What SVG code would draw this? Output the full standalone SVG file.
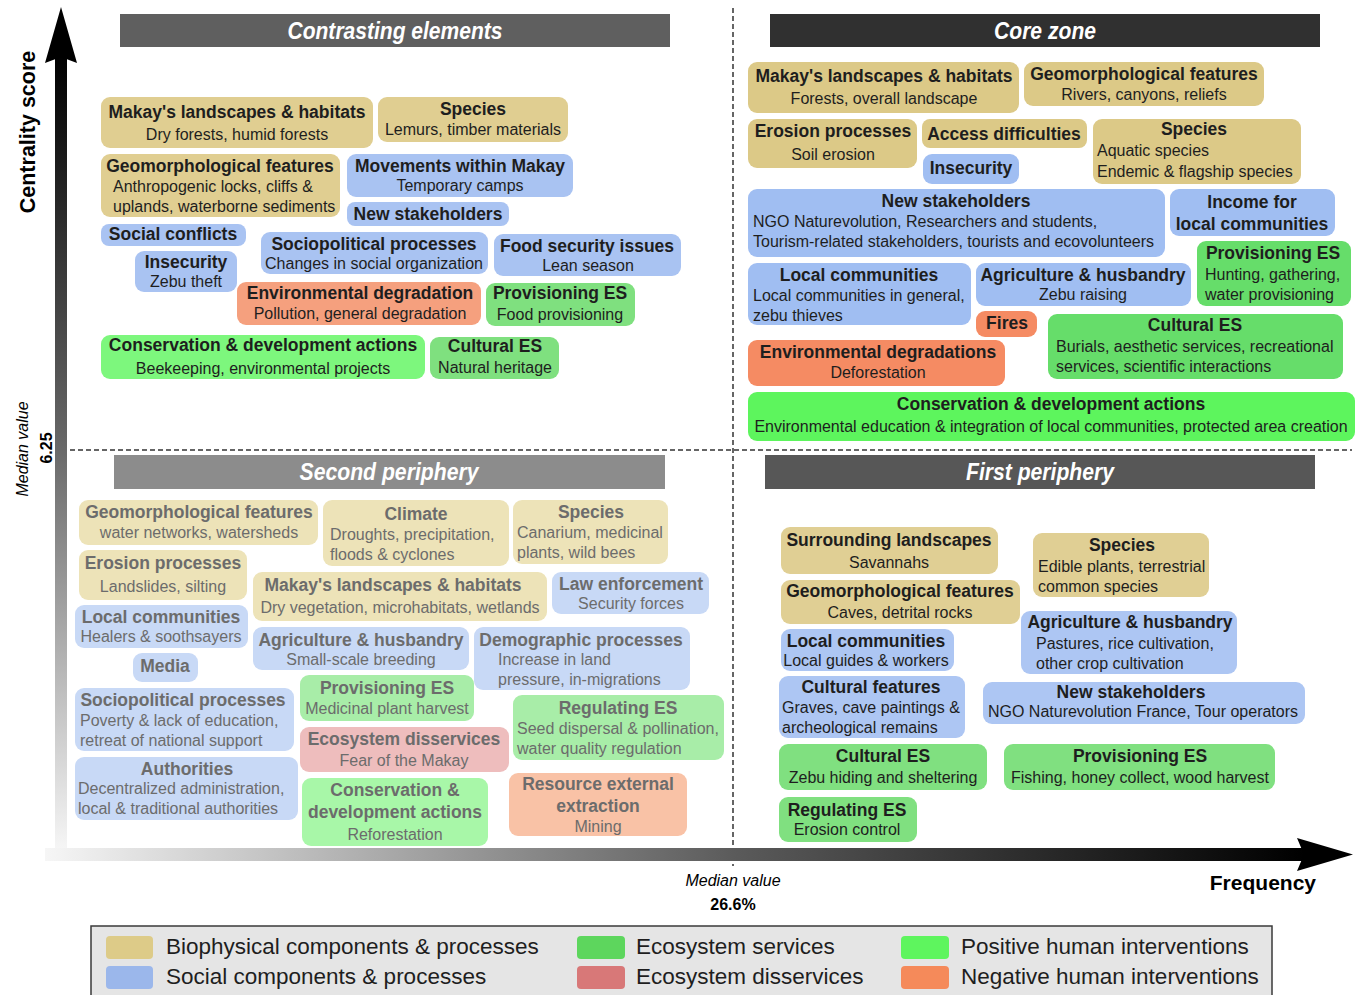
<svg xmlns="http://www.w3.org/2000/svg" width="1359" height="995" viewBox="0 0 1359 995">
<defs>
<linearGradient id="gy" x1="0" y1="55" x2="0" y2="850" gradientUnits="userSpaceOnUse">
<stop offset="0" stop-color="#000"/><stop offset="0.5" stop-color="#6a6a6a"/><stop offset="1" stop-color="#f6f6f6"/>
</linearGradient>
<linearGradient id="gx" x1="45" y1="0" x2="1305" y2="0" gradientUnits="userSpaceOnUse">
<stop offset="0" stop-color="#f6f6f6"/><stop offset="0.55" stop-color="#5a5a5a"/><stop offset="1" stop-color="#000"/>
</linearGradient>
<style>
text{font-family:"Liberation Sans",Arial,sans-serif}
.t{font-weight:bold;font-size:17.5px;fill:#1e1e1e}
.s{font-size:16px;fill:#1e1e1e}
.c{text-anchor:middle}
.fd .t,.fd .s{fill:#6c6c6c}
.hd{font-weight:bold;font-style:italic;font-size:24px;fill:#fff;text-anchor:middle}
.lg{font-size:22.5px;fill:#1e1e1e}
.dash{stroke:#333;stroke-width:1.5;stroke-dasharray:5 3;fill:none}
.bioC{fill:#E0CE91}.socC{fill:#A9C3F2}.esC{fill:#7FE07F}.posC{fill:#7DF77D}.negC{fill:#F5A07E}
.bioK{fill:#DCC987}.socK{fill:#A0BEF2}.esK{fill:#66DD6A}.posK{fill:#5DF55D}.negK{fill:#F58B63}
.bioS{fill:#EDE3B8}.socS{fill:#C8D9F6}.esS{fill:#A8EDA8}.disS{fill:#EEBDBD}.negS{fill:#F9C2A6}.posS{fill:#A8F7A8}
.bioF{fill:#E0CF94}.socF{fill:#ADC6F3}.esF{fill:#80E080}
</style>
</defs>
<rect width="1359" height="995" fill="#fff"/>

<!-- median lines -->
<g id="medians">
<line class="dash" x1="733" y1="8" x2="733" y2="866"/>
<line class="dash" x1="62" y1="450" x2="1352" y2="450"/>
</g>

<!-- headers -->
<g id="header-contrasting"><rect x="120" y="14" width="550" height="33" fill="#5f5f5f"/><text class="hd" x="395" y="39" textLength="215" lengthAdjust="spacingAndGlyphs">Contrasting elements</text></g>
<g id="header-core"><rect x="770" y="14" width="550" height="33" fill="#303030"/><text class="hd" x="1045" y="39" textLength="102" lengthAdjust="spacingAndGlyphs">Core zone</text></g>
<g id="header-second"><rect x="114" y="455" width="551" height="34" fill="#8c8c8c"/><text class="hd" x="389" y="480" textLength="179" lengthAdjust="spacingAndGlyphs">Second periphery</text></g>
<g id="header-first"><rect x="765" y="455" width="550" height="34" fill="#575757"/><text class="hd" x="1040" y="480" textLength="148" lengthAdjust="spacingAndGlyphs">First periphery</text></g>

<!-- Contrasting elements -->
<g id="ce-landscapes"><rect x="101" y="97" width="272" height="51" rx="9" class="bioC"/><text class="t c" x="237" y="118">Makay's landscapes &amp; habitats</text><text class="s c" x="237" y="140">Dry forests, humid forests</text></g>
<g id="ce-species"><rect x="378" y="97" width="190" height="45" rx="9" class="bioC"/><text class="t c" x="473" y="115">Species</text><text class="s c" x="473" y="135">Lemurs, timber materials</text></g>
<g id="ce-geomorph"><rect x="101" y="154" width="239" height="63" rx="9" class="bioC"/><text class="t c" x="220" y="172">Geomorphological features</text><text class="s" x="113" y="192">Anthropogenic locks, cliffs &amp;</text><text class="s" x="113" y="212">uplands, waterborne sediments</text></g>
<g id="ce-movements"><rect x="347" y="154" width="226" height="43" rx="9" class="socC"/><text class="t c" x="460" y="172">Movements within Makay</text><text class="s c" x="460" y="191">Temporary camps</text></g>
<g id="ce-newstake"><rect x="347" y="202" width="162" height="24" rx="8" class="socC"/><text class="t c" x="428" y="220">New stakeholders</text></g>
<g id="ce-conflicts"><rect x="101" y="224" width="145" height="22" rx="8" class="socC"/><text class="t c" x="173" y="240">Social conflicts</text></g>
<g id="ce-insecurity"><rect x="135" y="251" width="102" height="41" rx="9" class="socC"/><text class="t c" x="186" y="268">Insecurity</text><text class="s c" x="186" y="287">Zebu theft</text></g>
<g id="ce-sociopol"><rect x="261" y="232" width="227" height="42" rx="9" class="socC"/><text class="t c" x="374" y="250">Sociopolitical processes</text><text class="s c" x="374" y="269">Changes in social organization</text></g>
<g id="ce-food"><rect x="494" y="234" width="187" height="42" rx="9" class="socC"/><text class="t c" x="587" y="252">Food security issues</text><text class="s c" x="588" y="271">Lean season</text></g>
<g id="ce-envdeg"><rect x="237" y="282" width="244" height="43" rx="9" class="negC"/><text class="t c" x="360" y="299">Environmental degradation</text><text class="s c" x="360" y="319">Pollution, general degradation</text></g>
<g id="ce-provES"><rect x="486" y="283" width="149" height="43" rx="9" class="esC"/><text class="t c" x="560" y="299">Provisioning ES</text><text class="s c" x="560" y="320">Food provisioning</text></g>
<g id="ce-conservation"><rect x="101" y="335" width="324" height="44" rx="9" class="posC"/><text class="t c" x="263" y="351">Conservation &amp; development actions</text><text class="s c" x="263" y="374">Beekeeping, environmental projects</text></g>
<g id="ce-culturalES"><rect x="430" y="337" width="129" height="42" rx="9" class="esC"/><text class="t c" x="495" y="352">Cultural ES</text><text class="s c" x="495" y="373">Natural heritage</text></g>

<!-- Core zone -->
<g id="cz-landscapes"><rect x="748" y="62" width="271" height="51" rx="9" class="bioK"/><text class="t c" x="884" y="82">Makay's landscapes &amp; habitats</text><text class="s c" x="884" y="104">Forests, overall landscape</text></g>
<g id="cz-geomorph"><rect x="1024" y="62" width="240" height="44" rx="9" class="bioK"/><text class="t c" x="1144" y="80">Geomorphological features</text><text class="s c" x="1144" y="100">Rivers, canyons, reliefs</text></g>
<g id="cz-erosion"><rect x="748" y="119" width="169" height="49" rx="9" class="bioK"/><text class="t c" x="833" y="137">Erosion processes</text><text class="s c" x="833" y="160">Soil erosion</text></g>
<g id="cz-access"><rect x="922" y="119" width="165" height="29" rx="8" class="bioK"/><text class="t c" x="1004" y="140">Access difficulties</text></g>
<g id="cz-insecurity"><rect x="923" y="154" width="96" height="30" rx="9" class="socK"/><text class="t c" x="971" y="174">Insecurity</text></g>
<g id="cz-species"><rect x="1093" y="119" width="208" height="65" rx="9" class="bioK"/><text class="t c" x="1194" y="135">Species</text><text class="s" x="1097" y="156">Aquatic species</text><text class="s" x="1097" y="177">Endemic &amp; flagship species</text></g>
<g id="cz-newstake"><rect x="748" y="189" width="417" height="68" rx="9" class="socK"/><text class="t c" x="956" y="207">New stakeholders</text><text class="s" x="753" y="227">NGO Naturevolution, Researchers and students,</text><text class="s" x="753" y="247">Tourism-related stakeholders, tourists and ecovolunteers</text></g>
<g id="cz-income"><rect x="1170" y="189" width="165" height="47" rx="9" class="socK"/><text class="t c" x="1252" y="208">Income for</text><text class="t c" x="1252" y="230">local communities</text></g>
<g id="cz-provES"><rect x="1197" y="241" width="154" height="65" rx="9" class="esK"/><text class="t c" x="1273" y="259">Provisioning ES</text><text class="s" x="1205" y="280">Hunting, gathering,</text><text class="s" x="1205" y="300">water provisioning</text></g>
<g id="cz-localcomm"><rect x="748" y="263" width="223" height="62" rx="9" class="socK"/><text class="t c" x="859" y="281">Local communities</text><text class="s" x="753" y="301">Local communities in general,</text><text class="s" x="753" y="321">zebu thieves</text></g>
<g id="cz-agri"><rect x="976" y="263" width="215" height="43" rx="9" class="socK"/><text class="t c" x="1083" y="281">Agriculture &amp; husbandry</text><text class="s c" x="1083" y="300">Zebu raising</text></g>
<g id="cz-fires"><rect x="976" y="311" width="61" height="26" rx="9" class="negK"/><text class="t c" x="1007" y="329">Fires</text></g>
<g id="cz-culturalES"><rect x="1048" y="314" width="295" height="65" rx="9" class="esK"/><text class="t c" x="1195" y="331">Cultural ES</text><text class="s" x="1056" y="352">Burials, aesthetic services, recreational</text><text class="s" x="1056" y="372">services, scientific interactions</text></g>
<g id="cz-envdeg"><rect x="748" y="340" width="257" height="46" rx="9" class="negK"/><text class="t c" x="878" y="358">Environmental degradations</text><text class="s c" x="878" y="378">Deforestation</text></g>
<g id="cz-conservation"><rect x="748" y="392" width="607" height="49" rx="9" class="posK"/><text class="t c" x="1051" y="410">Conservation &amp; development actions</text><text class="s c" x="1051" y="432">Environmental education &amp; integration of local communities, protected area creation</text></g>

<!-- Second periphery -->
<g class="fd">
<g id="sp-geomorph"><rect x="79" y="500" width="239" height="45" rx="9" class="bioS"/><text class="t c" x="199" y="518">Geomorphological features</text><text class="s c" x="199" y="538">water networks, watersheds</text></g>
<g id="sp-climate"><rect x="323" y="500" width="186" height="66" rx="9" class="bioS"/><text class="t c" x="416" y="520">Climate</text><text class="s" x="330" y="540">Droughts, precipitation,</text><text class="s" x="330" y="560">floods &amp; cyclones</text></g>
<g id="sp-species"><rect x="513" y="500" width="155" height="64" rx="9" class="bioS"/><text class="t c" x="591" y="518">Species</text><text class="s" x="517" y="538">Canarium, medicinal</text><text class="s" x="517" y="558">plants, wild bees</text></g>
<g id="sp-erosion"><rect x="79" y="550" width="168" height="50" rx="9" class="bioS"/><text class="t c" x="163" y="569">Erosion processes</text><text class="s c" x="163" y="592">Landslides, silting</text></g>
<g id="sp-landscapes"><rect x="253" y="572" width="294" height="49" rx="9" class="bioS"/><text class="t c" x="393" y="591">Makay's landscapes &amp; habitats</text><text class="s c" x="400" y="613">Dry vegetation, microhabitats, wetlands</text></g>
<g id="sp-law"><rect x="552" y="572" width="157" height="42" rx="9" class="socS"/><text class="t c" x="631" y="590">Law enforcement</text><text class="s c" x="631" y="609">Security forces</text></g>
<g id="sp-localcomm"><rect x="75" y="605" width="173" height="43" rx="9" class="socS"/><text class="t c" x="161" y="623">Local communities</text><text class="s c" x="161" y="642">Healers &amp; soothsayers</text></g>
<g id="sp-agri"><rect x="253" y="627" width="216" height="43" rx="9" class="socS"/><text class="t c" x="361" y="646">Agriculture &amp; husbandry</text><text class="s c" x="361" y="665">Small-scale breeding</text></g>
<g id="sp-demo"><rect x="474" y="627" width="216" height="63" rx="9" class="socS"/><text class="t c" x="581" y="646">Demographic processes</text><text class="s" x="498" y="665">Increase in land</text><text class="s" x="498" y="685">pressure, in-migrations</text></g>
<g id="sp-media"><rect x="133" y="653" width="65" height="29" rx="9" class="socS"/><text class="t c" x="165" y="672">Media</text></g>
<g id="sp-sociopol"><rect x="75" y="688" width="219" height="63" rx="9" class="socS"/><text class="t c" x="183" y="706">Sociopolitical processes</text><text class="s" x="80" y="726">Poverty &amp; lack of education,</text><text class="s" x="80" y="746">retreat of national support</text></g>
<g id="sp-provES"><rect x="300" y="675" width="174" height="46" rx="9" class="esS"/><text class="t c" x="387" y="694">Provisioning ES</text><text class="s c" x="387" y="714">Medicinal plant harvest</text></g>
<g id="sp-regES"><rect x="513" y="695" width="211" height="65" rx="9" class="esS"/><text class="t c" x="618" y="714">Regulating ES</text><text class="s" x="517" y="734">Seed dispersal &amp; pollination,</text><text class="s" x="517" y="754">water quality regulation</text></g>
<g id="sp-disservices"><rect x="300" y="727" width="209" height="45" rx="9" class="disS"/><text class="t c" x="404" y="745">Ecosystem disservices</text><text class="s c" x="404" y="766">Fear of the Makay</text></g>
<g id="sp-authorities"><rect x="75" y="757" width="223" height="63" rx="9" class="socS"/><text class="t c" x="187" y="775">Authorities</text><text class="s" x="78" y="794">Decentralized administration,</text><text class="s" x="78" y="814">local &amp; traditional authorities</text></g>
<g id="sp-conservation"><rect x="302" y="778" width="186" height="68" rx="9" class="posS"/><text class="t c" x="395" y="796">Conservation &amp;</text><text class="t c" x="395" y="818">development actions</text><text class="s c" x="395" y="840">Reforestation</text></g>
<g id="sp-extraction"><rect x="509" y="773" width="178" height="63" rx="9" class="negS"/><text class="t c" x="598" y="790">Resource external</text><text class="t c" x="598" y="812">extraction</text><text class="s c" x="598" y="832">Mining</text></g>
</g>

<!-- First periphery -->
<g id="fp-surrounding"><rect x="781" y="527" width="217" height="47" rx="9" class="bioF"/><text class="t c" x="889" y="546">Surrounding landscapes</text><text class="s c" x="889" y="568">Savannahs</text></g>
<g id="fp-species"><rect x="1033" y="533" width="176" height="64" rx="9" class="bioF"/><text class="t c" x="1122" y="551">Species</text><text class="s" x="1038" y="572">Edible plants, terrestrial</text><text class="s" x="1038" y="592">common species</text></g>
<g id="fp-geomorph"><rect x="781" y="580" width="239" height="44" rx="9" class="bioF"/><text class="t c" x="900" y="597">Geomorphological features</text><text class="s c" x="900" y="618">Caves, detrital rocks</text></g>
<g id="fp-agri"><rect x="1021" y="611" width="216" height="63" rx="9" class="socF"/><text class="t c" x="1130" y="628">Agriculture &amp; husbandry</text><text class="s" x="1036" y="649">Pastures, rice cultivation,</text><text class="s" x="1036" y="669">other crop cultivation</text></g>
<g id="fp-localcomm"><rect x="781" y="629" width="173" height="42" rx="9" class="socF"/><text class="t c" x="866" y="647">Local communities</text><text class="s c" x="866" y="666">Local guides &amp; workers</text></g>
<g id="fp-cultfeat"><rect x="779" y="676" width="186" height="62" rx="9" class="socF"/><text class="t c" x="871" y="693">Cultural features</text><text class="s" x="782" y="713">Graves, cave paintings &amp;</text><text class="s" x="782" y="733">archeological remains</text></g>
<g id="fp-newstake"><rect x="983" y="682" width="322" height="42" rx="9" class="socF"/><text class="t c" x="1131" y="698">New stakeholders</text><text class="s c" x="1143" y="717">NGO Naturevolution France, Tour operators</text></g>
<g id="fp-culturalES"><rect x="779" y="744" width="208" height="46" rx="9" class="esF"/><text class="t c" x="883" y="762">Cultural ES</text><text class="s c" x="883" y="783">Zebu hiding and sheltering</text></g>
<g id="fp-provES"><rect x="1004" y="744" width="271" height="46" rx="9" class="esF"/><text class="t c" x="1140" y="762">Provisioning ES</text><text class="s c" x="1140" y="783">Fishing, honey collect, wood harvest</text></g>
<g id="fp-regES"><rect x="779" y="797" width="138" height="45" rx="9" class="esF"/><text class="t c" x="847" y="816">Regulating ES</text><text class="s c" x="847" y="835">Erosion control</text></g>

<!-- axes -->
<g id="axes">
<rect x="55" y="55" width="12" height="800" fill="url(#gy)"/>
<path d="M61,7 L77,63 L61,57 L45,63 Z" fill="#000"/>
<rect x="45" y="848" width="1262" height="13" fill="url(#gx)"/>
<path d="M1353,854.5 L1297,838 L1304,854.5 L1297,871 Z" fill="#000"/>
<text transform="translate(35,132) rotate(-90)" text-anchor="middle" font-weight="bold" font-size="21.5" fill="#000">Centrality score</text>
<text transform="translate(28,449) rotate(-90)" text-anchor="middle" font-style="italic" font-size="16" fill="#000">Median value</text>
<text transform="translate(52,448) rotate(-90)" text-anchor="middle" font-weight="bold" font-size="16" fill="#000">6.25</text>
<text x="733" y="886" text-anchor="middle" font-style="italic" font-size="16" fill="#000">Median value</text>
<text x="733" y="910" text-anchor="middle" font-weight="bold" font-size="16" fill="#000">26.6%</text>
<text x="1316" y="890" text-anchor="end" font-weight="bold" font-size="21" fill="#000">Frequency</text>
</g>

<!-- legend -->
<g id="legend">
<rect x="91" y="926" width="1181" height="80" fill="#e5e5e5" stroke="#3a3a3a" stroke-width="1.5"/>
<rect x="106" y="936" width="47" height="23" rx="4" fill="#DDCB88"/><text class="lg" x="166" y="954">Biophysical components &amp; processes</text>
<rect x="106" y="966" width="47" height="23" rx="4" fill="#9BB7EB"/><text class="lg" x="166" y="984">Social components &amp; processes</text>
<rect x="577" y="936" width="48" height="23" rx="4" fill="#5DD65D"/><text class="lg" x="636" y="954">Ecosystem services</text>
<rect x="577" y="966" width="48" height="23" rx="4" fill="#D87878"/><text class="lg" x="636" y="984">Ecosystem disservices</text>
<rect x="901" y="936" width="48" height="23" rx="4" fill="#5EF55E"/><text class="lg" x="961" y="954">Positive human interventions</text>
<rect x="901" y="966" width="48" height="23" rx="4" fill="#F58A5A"/><text class="lg" x="961" y="984">Negative human interventions</text>
</g>
</svg>
